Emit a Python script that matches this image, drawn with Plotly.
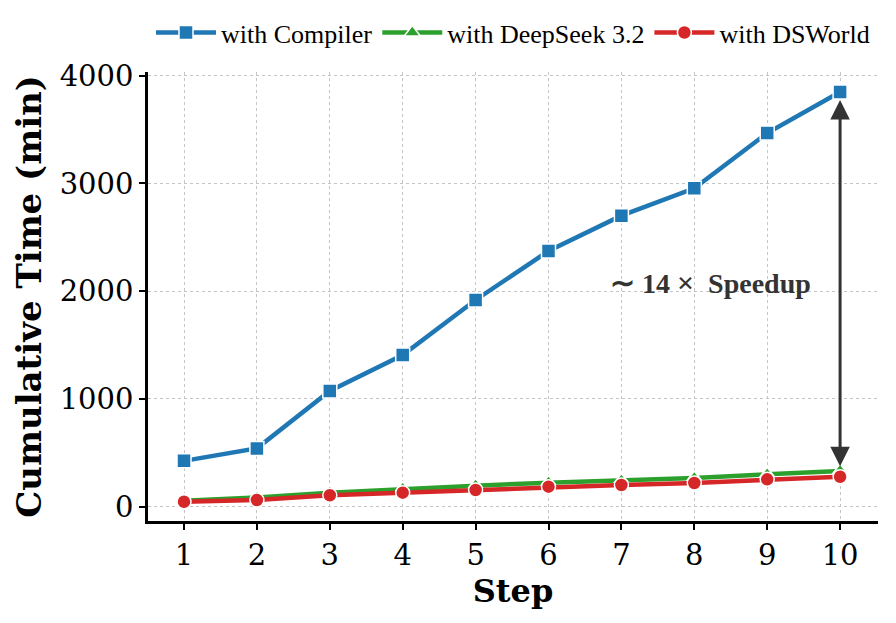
import plotly.graph_objects as go

steps = [1, 2, 3, 4, 5, 6, 7, 8, 9, 10]
compiler = [425, 541, 1074, 1408, 1918, 2373, 2701, 2955, 3467, 3849]
deepseek = [55, 85, 130, 165, 195, 223, 243, 266, 300, 332]
dsworld = [46, 62, 106, 130, 155, 186, 201, 220, 254, 278]
x_ticks = steps
y_ticks = [0, 1000, 2000, 3000, 4000]

fig = go.Figure()
series = [
    ("with Compiler", compiler, "#1f77b4", "square"),
    ("with DeepSeek 3.2", deepseek, "#2ca02c", "triangle-up"),
    ("with DSWorld", dsworld, "#d62728", "circle"),
]
for name, ys, col, sym in series:
    fig.add_trace(go.Scatter(
        x=steps, y=ys, name=name, mode="lines+markers",
        line=dict(color=col, width=4.5),
        marker=dict(symbol=sym, size=14, color=col, line=dict(color="white", width=1.5)),
    ))

# double-headed arrow between last points
fig.add_annotation(
    x=steps[-1], y=compiler[-1], ax=steps[-1], ay=dsworld[-1],
    xref="x", yref="y", axref="x", ayref="y",
    showarrow=True, arrowside="end+start", arrowhead=2, startarrowhead=2,
    arrowsize=1.3, startarrowsize=1.3, arrowwidth=3, arrowcolor="#333333",
    standoff=8, startstandoff=9, text="",
)
ratio = round(compiler[-1] / dsworld[-1])
fig.add_annotation(
    x=8.22, y=(compiler[-1] + dsworld[-1]) / 2 + 20, xref="x", yref="y",
    text=f"<b><span style='font-size:30px'>∼</span> {ratio} <span style='font-size:30px'>×</span>  Speedup</b>",
    showarrow=False,
    font=dict(family="Liberation Serif", size=28, color="#333333"),
)

axis_common = dict(
    showline=True, linecolor="black", linewidth=2.5,
    ticks="outside", ticklen=6, tickwidth=2, tickcolor="black",
    showgrid=True, gridcolor="#c4c4c4", gridwidth=1.2, griddash="dot",
    zeroline=False, mirror=False, automargin=False,
    tickfont=dict(family="DejaVu Serif", size=29, color="black"),
)
fig.update_xaxes(range=[0.506, 10.52], tickvals=x_ticks, **axis_common,
                 title=dict(text="<b>Step</b>", font=dict(family="DejaVu Serif", size=32, color="black"), standoff=6))
fig.update_yaxes(range=[-133, 4034], tickvals=y_ticks, **axis_common,
                 title=dict(text="<b>Cumulative Time (min)</b>", font=dict(family="DejaVu Serif", size=34, color="black"), standoff=8))

fig.update_layout(
    width=896, height=623,
    margin=dict(l=148, r=18, t=72, b=102, autoexpand=False),
    plot_bgcolor="white", paper_bgcolor="white",
    legend=dict(orientation="h", x=0.5, xanchor="center", y=1.14, yanchor="top",
                font=dict(family="Liberation Serif", size=26, color="black"),
                itemwidth=60, tracegroupgap=0),
    showlegend=True,
)
fig.write_html("out.html")
